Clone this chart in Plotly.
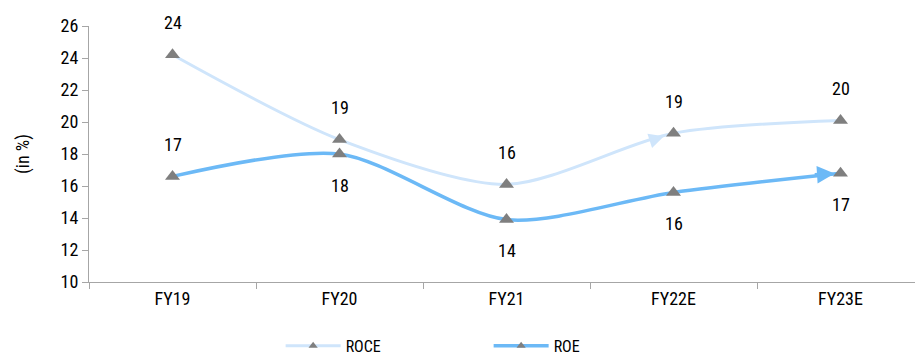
import plotly.graph_objects as go

categories = ["FY19", "FY20", "FY21", "FY22E", "FY23E"]
roce = [24.2, 18.9, 16.1, 19.3, 20.1]
roe = [16.6, 18.0, 13.9, 15.6, 16.8]
roe_label_pos = ["above", "below", "below", "below", "below"]

FONT = "Roboto Condensed, DejaVu Sans Condensed, Roboto, sans-serif"
C_ROCE = "#cfe5fb"
C_ROE = "#6cb9f6"
C_MARK = "#7f7f7f"

fig = go.Figure()
fig.add_trace(go.Scatter(
    x=categories, y=roce, name="ROCE", mode="lines+markers", showlegend=False,
    line=dict(color=C_ROCE, width=3, shape="spline", smoothing=0.8),
    marker=dict(symbol="triangle-up", size=13, color=C_MARK),
))
fig.add_trace(go.Scatter(
    x=categories, y=roe, name="ROE", mode="lines+markers", showlegend=False,
    line=dict(color=C_ROE, width=3.5, shape="spline", smoothing=0.8),
    marker=dict(symbol="triangle-up", size=13, color=C_MARK),
))
# legend entries with small markers
for name, col, w in [("ROCE", C_ROCE, 3), ("ROE", C_ROE, 3.5)]:
    fig.add_trace(go.Scatter(
        x=[None], y=[None], name=name, mode="lines+markers",
        line=dict(color=col, width=w),
        marker=dict(symbol="triangle-up", size=8, color=C_MARK),
    ))

for c, v in zip(categories, roce):
    fig.add_annotation(x=c, y=v, text=f"{v:.0f}", showarrow=False, yshift=32,
                       font=dict(family=FONT, size=18, color="#000"))
for c, v, p in zip(categories, roe, roe_label_pos):
    fig.add_annotation(x=c, y=v, text=f"{v:.0f}", showarrow=False,
                       yshift=32 if p == "above" else -31,
                       font=dict(family=FONT, size=18, color="#000"))

# arrowhead at the end of ROE line
fig.add_annotation(x=categories[-1], y=roe[-1], ax=categories[-2], ay=roe[-2] + 0.55,
                   xref="x", yref="y", axref="x", ayref="y", text="",
                   showarrow=True, arrowhead=2, arrowsize=1, arrowwidth=3.5,
                   arrowcolor=C_ROE, standoff=6, startstandoff=140)
# small arrowhead on ROCE line into FY22E
fig.add_annotation(x=categories[3], y=roce[3], ax=categories[2], ay=roce[3] - 3.4,
                   xref="x", yref="y", axref="x", ayref="y", text="",
                   showarrow=True, arrowhead=2, arrowsize=1, arrowwidth=3,
                   arrowcolor=C_ROCE, standoff=10, startstandoff=150)

fig.update_layout(
    width=915, height=358,
    margin=dict(l=89, r=0, t=26, b=76, autoexpand=False),
    paper_bgcolor="white", plot_bgcolor="white",
    font=dict(family=FONT, size=18, color="#000"),
    showlegend=True,
    legend=dict(orientation="h", x=0.232, xanchor="left",
                yref="container", y=0.034, yanchor="middle",
                entrywidth=138, itemwidth=55, font=dict(family=FONT, size=16)),
)
fig.update_xaxes(
    type="category", range=[-0.5, 4.446],
    showline=True, linecolor="#a6a6a6", linewidth=1,
    ticks="outside", tickson="boundaries", ticklen=6, tickcolor="#a6a6a6",
    showgrid=False, tickfont=dict(family=FONT, size=18),
)
fig.update_yaxes(
    range=[10, 26], dtick=2,
    showline=True, linecolor="#a6a6a6", linewidth=1,
    ticks="outside", ticklen=6, tickcolor="#a6a6a6",
    showgrid=False, zeroline=False, tickfont=dict(family=FONT, size=18),
    title=dict(text="(in %)", font=dict(family=FONT, size=18), standoff=26),
)

fig.write_html("out.html")
